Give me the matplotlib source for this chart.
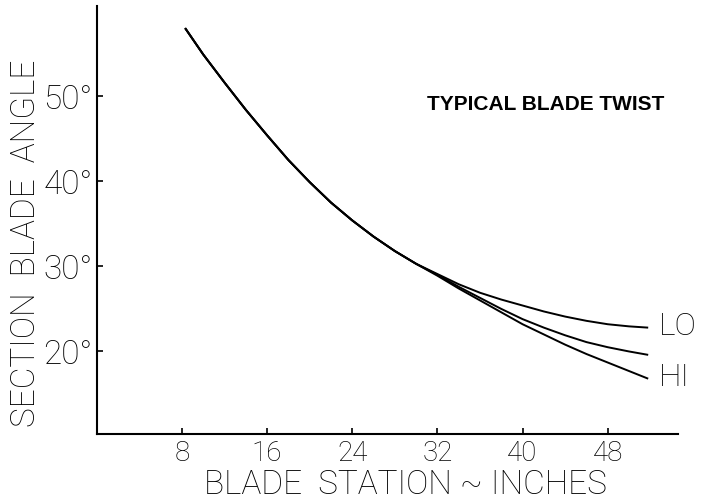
import matplotlib
matplotlib.use("Agg")
import matplotlib.pyplot as plt

# Blade station (inches) and section blade angle (degrees)
station_root = [8.3, 10, 12, 14, 16, 18, 20, 22, 24, 26, 28, 30]
angle_root = [58.0, 54.9, 51.6, 48.4, 45.4, 42.5, 39.9, 37.5, 35.4, 33.5, 31.8, 30.3]

station_tip = [32, 34, 36, 38, 40, 42, 44, 46, 48, 50, 51.8]
angle_lo = [29.1, 27.9, 26.9, 26.1, 25.4, 24.7, 24.1, 23.6, 23.2, 22.95, 22.8]
angle_mid = [29.0, 27.6, 26.3, 25.0, 23.8, 22.8, 21.9, 21.1, 20.5, 20.0, 19.6]
angle_hi = [28.9, 27.4, 26.0, 24.6, 23.2, 22.0, 20.8, 19.7, 18.7, 17.7, 16.8]

x_ticks = [8, 16, 24, 32, 40, 48]
y_ticks = [20, 30, 40, 50]
y_tick_labels = ["20°", "30°", "40°", "50°"]

LETTER = dict(family=["Roboto", "DejaVu Sans"], fontweight="light")

W, H = 707, 500
fig = plt.figure(figsize=(W / 100, H / 100), dpi=100)
ax = fig.add_axes([96.8 / W, 1 - 434 / H, (678 - 96.8) / W, (434 - 6) / H])

for tip in (angle_lo, angle_mid, angle_hi):
    ax.plot(station_root + station_tip, angle_root + tip,
            color="black", lw=1.4, solid_capstyle="butt", clip_on=False)

ax.set_xlim(0, 54.6)
ax.set_ylim(10.3, 60.6)

for side in ("top", "right"):
    ax.spines[side].set_visible(False)
for side in ("left", "bottom"):
    ax.spines[side].set_linewidth(1.5)

ax.set_xticks(x_ticks)
ax.set_xticklabels([str(v) for v in x_ticks], fontsize=20, **LETTER)
ax.set_yticks(y_ticks)
ax.set_yticklabels(y_tick_labels, fontsize=24, **LETTER)
ax.tick_params(axis="both", direction="in", length=4, width=1.2)
ax.tick_params(axis="x", pad=4)
ax.tick_params(axis="y", pad=3)

fig.text(26 / W, 1 - 243 / H, "SECTION  BLADE  ANGLE", rotation=90,
         ha="center", va="center", fontsize=24, **LETTER)
fig.text(405 / W, 1 - 494 / H, "BLADE  STATION ~ INCHES",
         ha="center", va="baseline", fontsize=24, **LETTER)

fig.text(546 / W, 1 - 105 / H, "TYPICAL BLADE TWIST", ha="center", va="center",
         family=["Liberation Sans", "DejaVu Sans"], fontweight="bold", fontsize=15)

ax.text(52.8, 22.95, "LO", ha="left", va="center", fontsize=23, **LETTER)
ax.text(52.8, 16.9, "HI", ha="left", va="center", fontsize=23, **LETTER)

fig.savefig("out.png", dpi=100, facecolor="white")
